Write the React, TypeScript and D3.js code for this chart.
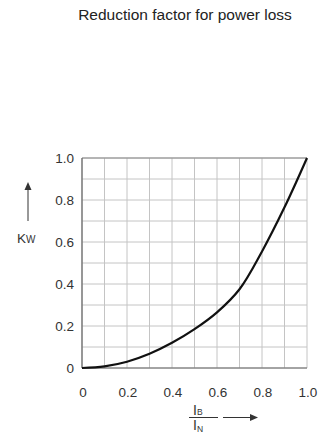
import React from "react";
import * as d3 from "d3";

const xValues = [0, 0.1, 0.2, 0.3, 0.4, 0.5, 0.6, 0.7, 0.8, 0.9, 1.0];
const kwValues = [0, 0.008, 0.03, 0.068, 0.12, 0.185, 0.265, 0.375, 0.555, 0.765, 1.0];
const gridTicks = [0, 0.1, 0.2, 0.3, 0.4, 0.5, 0.6, 0.7, 0.8, 0.9, 1.0];
const labelTicks = [0, 0.2, 0.4, 0.6, 0.8, 1.0];
const labelText = ["0", "0.2", "0.4", "0.6", "0.8", "1.0"];
const title = "Reduction factor for power loss";

export default function App() {
  const W = 323, H = 438;
  const x = d3.scaleLinear().domain([0, 1]).range([82, 307]);
  const y = d3.scaleLinear().domain([0, 1]).range([368, 158]);
  const pts = xValues.map((v, i) => [v, kwValues[i]] as [number, number]);
  const line = d3
    .line<[number, number]>()
    .x((d) => x(d[0]))
    .y((d) => y(d[1]))
    .curve(d3.curveCatmullRom.alpha(0.5));
  const font = "Liberation Sans, Arial, sans-serif";
  return (
    <svg
      width={W}
      height={H}
      style={{ position: "absolute", left: 0, top: 0, background: "#fff" }}
      fontFamily={font}
    >
      <defs>
        <marker id="ah" markerWidth="8" markerHeight="8" refX="4" refY="4" orient="auto" markerUnits="userSpaceOnUse">
          <path d="M0,0.5 L8,4 L0,7.5 Z" fill="#333" />
        </marker>
      </defs>
      <text x={185} y={20} textAnchor="middle" fontSize={15.5} fill="#222">
        {title}
      </text>
      {gridTicks.map((t) => (
        <line key={"v" + t} x1={x(t)} x2={x(t)} y1={y(0)} y2={y(1)} stroke="#c4c4c4" strokeWidth={1} />
      ))}
      {gridTicks.map((t) => (
        <line key={"h" + t} x1={x(0)} x2={x(1)} y1={y(t)} y2={y(t)} stroke="#c4c4c4" strokeWidth={1} />
      ))}
      <line x1={x(0)} x2={x(1)} y1={y(1)} y2={y(1)} stroke="#888" strokeWidth={1.2} />
      <line x1={x(0)} x2={x(0)} y1={y(0)} y2={y(1)} stroke="#666" strokeWidth={1.2} />
      <line x1={x(0)} x2={x(1)} y1={y(0)} y2={y(0)} stroke="#666" strokeWidth={1.2} />
      <path d={line(pts) || ""} fill="none" stroke="#111" strokeWidth={2.2} />
      {labelTicks.map((t, i) => (
        <text key={"yl" + t} x={74} y={y(t) + 5} textAnchor="end" fontSize={13.5} fill="#333">
          {labelText[i]}
        </text>
      ))}
      {labelTicks.map((t, i) => (
        <text key={"xl" + t} x={x(t) + 1} y={397} textAnchor="middle" fontSize={13.5} fill="#333">
          {labelText[i]}
        </text>
      ))}
      <line x1={28} x2={28} y1={221} y2={186} stroke="#333" strokeWidth={1} markerEnd="url(#ah)" />
      <text x={17} y={243} fontSize={13.5} fill="#333">
        K<tspan fontSize={10}>W</tspan>
      </text>
      <text x={193} y={415} fontSize={14} fill="#333">
        I<tspan fontSize={8.5}>B</tspan>
      </text>
      <line x1={189} x2={218} y1={417.5} y2={417.5} stroke="#333" strokeWidth={1} />
      <text x={193} y={430} fontSize={14} fill="#333">
        I<tspan fontSize={8.5} dy={2}>N</tspan>
      </text>
      <line x1={223} x2={254} y1={417.5} y2={417.5} stroke="#333" strokeWidth={1} markerEnd="url(#ah)" />
    </svg>
  );
}
